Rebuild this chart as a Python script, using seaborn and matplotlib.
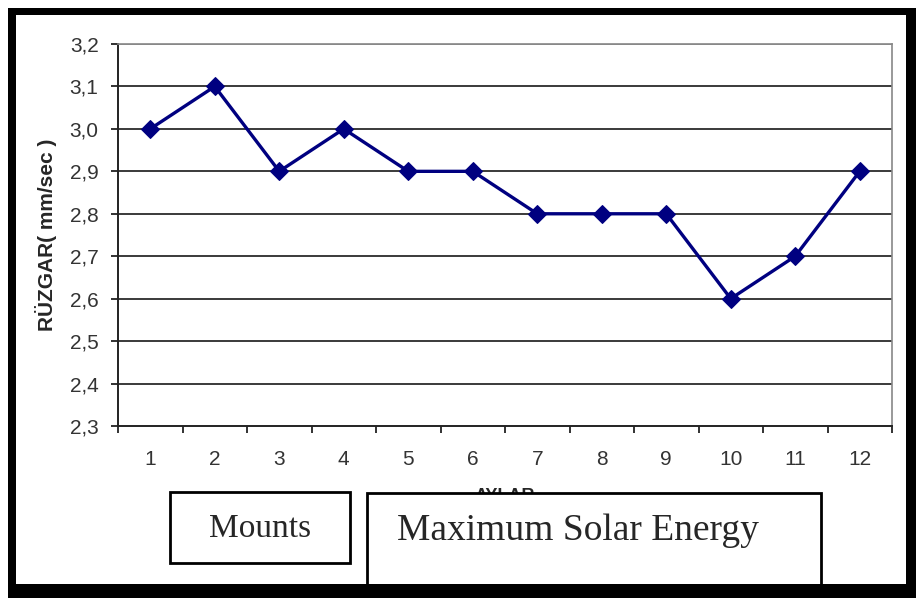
import numpy as np
import pandas as pd
import seaborn as sns
import matplotlib.pyplot as plt
from matplotlib.patches import Rectangle
from matplotlib.ticker import FixedLocator

MONTHS = [1, 2, 3, 4, 5, 6, 7, 8, 9, 10, 11, 12]
WIND = [3.0, 3.1, 2.9, 3.0, 2.9, 2.9, 2.8, 2.8, 2.8, 2.6, 2.7, 2.9]
YTICKS = [2.3, 2.4, 2.5, 2.6, 2.7, 2.8, 2.9, 3.0, 3.1, 3.2]
YLABEL = 'RÜZGAR( mm/sec )'
XLABEL = 'AYLAR'
BOX_LEFT = 'Mounts'
BOX_RIGHT = 'Maximum Solar Energy'

W, H = 916, 598
sns.set_style('white')
plt.rcParams['font.family'] = ['Liberation Sans', 'DejaVu Sans']

df = pd.DataFrame({'month': MONTHS, 'wind': WIND})

fig = plt.figure(figsize=(W / 100, H / 100), dpi=100)
fig.patch.set_facecolor('white')


def px(x0, y0, x1, y1):
    # pixel box (from top-left) -> figure fraction rect
    return (x0 / W, 1 - y1 / H, (x1 - x0) / W, (y1 - y0) / H)


# black frame around the chart
b = px(8, 8, W, H)
fig.patches.append(Rectangle(b[:2], b[2], b[3], transform=fig.transFigure,
                             facecolor='black', edgecolor='none', zorder=-2))
w = px(16, 15, 906, 584)
fig.patches.append(Rectangle(w[:2], w[2], w[3], transform=fig.transFigure,
                             facecolor='white', edgecolor='none', zorder=-1))

ax = fig.add_axes(px(118, 44, 892, 426))
ax.set_facecolor('white')
sns.lineplot(data=df, x='month', y='wind', ax=ax, color='#000080',
             linewidth=2.4, marker='D', markersize=9, markeredgecolor='#000080')

ax.set_xlim(0.5, 12.5)
ax.set_ylim(min(YTICKS), max(YTICKS))
ax.set_yticks(YTICKS)
ax.set_yticklabels([('%.1f' % v).replace('.', ',') for v in YTICKS])
for v in YTICKS[1:-1]:
    ax.axhline(v, color='#3a3a3a', linewidth=1.4, zorder=0)
ax.axhline(YTICKS[-1], color='#888888', linewidth=1.4, zorder=0)

# category axis: tick marks between months, labels at month centres
ax.xaxis.set_major_locator(FixedLocator(np.arange(0.5, 13, 1)))
ax.set_xticklabels([])
ax.xaxis.set_minor_locator(FixedLocator(MONTHS))
ax.set_xticklabels([str(m) for m in MONTHS], minor=True)
ax.tick_params(axis='x', which='major', direction='out', length=5, width=1.3,
               color='#222222', bottom=True)
ax.tick_params(axis='x', which='minor', length=0, pad=17,
               labelsize=15, labelcolor='#333333', bottom=True)
ax.tick_params(axis='y', direction='out', length=5, width=1.3, color='#222222',
               left=True, pad=9, labelsize=15, labelcolor='#333333')

for s in ('left', 'bottom'):
    ax.spines[s].set_color('#222222')
    ax.spines[s].set_linewidth(1.4)
for s in ('top', 'right'):
    ax.spines[s].set_color('#888888')
    ax.spines[s].set_linewidth(1.2)

ax.set_xlabel(XLABEL, fontsize=13, fontweight='bold', labelpad=14)
ax.set_ylabel(YLABEL, fontsize=15, fontweight='bold', labelpad=9)

# overlaid caption boxes
r1 = px(170, 492, 350, 563)
fig.patches.append(Rectangle(r1[:2], r1[2], r1[3], transform=fig.transFigure,
                             facecolor='white', edgecolor='black',
                             linewidth=2, zorder=3))
fig.text(260 / W, 1 - 529 / H, BOX_LEFT, family='Liberation Serif',
         fontsize=24, ha='center', va='center', zorder=4)
r2 = px(367, 493, 821, 590)
fig.patches.append(Rectangle(r2[:2], r2[2], r2[3], transform=fig.transFigure,
                             facecolor='white', edgecolor='black',
                             linewidth=2, zorder=3))
fig.text(397 / W, 1 - 531 / H, BOX_RIGHT, family='Liberation Serif',
         fontsize=27, ha='left', va='center', zorder=4)
bb = px(8, 584, W, H)
fig.patches.append(Rectangle(bb[:2], bb[2], bb[3], transform=fig.transFigure,
                             facecolor='black', edgecolor='none', zorder=5))

fig.savefig('out.png', dpi=100)
